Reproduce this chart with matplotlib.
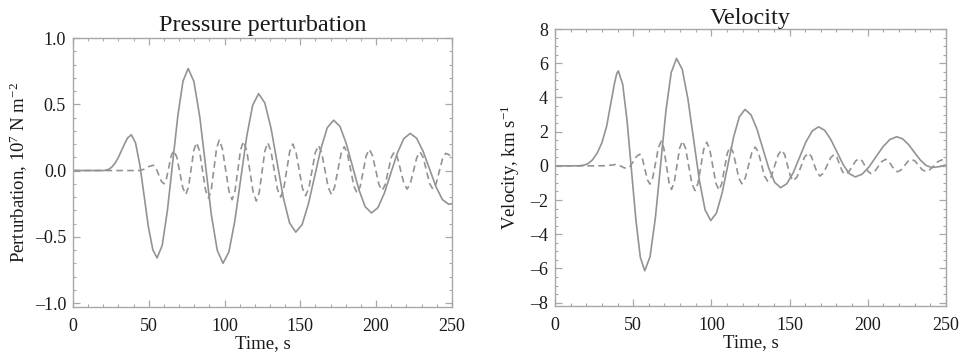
import matplotlib
matplotlib.use("Agg")
import matplotlib.pyplot as plt
from matplotlib.ticker import MultipleLocator, FuncFormatter

plt.rcParams['font.family'] = ['Liberation Serif', 'DejaVu Serif']
plt.rcParams['mathtext.fontset'] = 'custom'
plt.rcParams['mathtext.rm'] = 'Liberation Serif'
plt.rcParams['mathtext.it'] = 'Liberation Serif:italic'

# pressure perturbation, solid
p_sol_t = [0, 10, 20, 22, 24, 26, 28, 30, 32, 34, 36, 38.5,
           41.3, 44.2, 47.0, 49.8, 52.7, 55.5,
           58.9, 62.3, 65.75, 69.2, 72.6, 76,
           79.8, 83.7, 87.5, 91.3, 95.2, 99,
           102.9, 106.8, 110.75, 114.7, 118.6, 122.5,
           126.6, 130.7, 134.75, 138.8, 142.9, 147,
           151.2, 155.3, 159.5, 163.7, 167.8, 172,
           176.2, 180.3, 184.5, 188.7, 192.8, 197,
           201.25, 205.5, 209.75, 214, 218.25, 222.5,
           226.75, 231, 235.25, 239.5, 243.75, 248, 250]
p_sol_v = [0, 0, 0, 0.003, 0.012, 0.03, 0.06, 0.1, 0.15, 0.2, 0.245, 0.27,
           0.208, 0.038, -0.195, -0.428, -0.598, -0.66,
           -0.564, -0.303, 0.055, 0.413, 0.674, 0.77,
           0.672, 0.403, 0.035, -0.333, -0.602, -0.70,
           -0.614, -0.38, -0.06, 0.26, 0.494, 0.58,
           0.51, 0.319, 0.058, -0.204, -0.395, -0.465,
           -0.408, -0.254, -0.043, 0.169, 0.323, 0.38,
           0.333, 0.205, 0.03, -0.145, -0.273, -0.32,
           -0.28, -0.17, -0.02, 0.13, 0.24, 0.28,
           0.244, 0.146, 0.013, -0.121, -0.219, -0.255, -0.25]

# pressure perturbation, dashed
p_dash_t = [0, 44, 47, 50, 53, 54.75, 56.5, 58.25, 60, 61.6, 63.25, 64.9, 66.5,
            68.5, 70.5, 72.5, 74.5, 76.25, 78, 79.75, 81.5, 83.5, 85.5, 87.5,
            89.5, 91.25, 93, 94.75, 96.5, 98.6, 100.75, 102.9, 105, 106.9,
            108.75, 110.6, 112.5, 114.6, 116.75, 118.9, 121, 122.9, 124.75,
            126.6, 128.5, 130.6, 132.75, 134.9, 137, 139, 141, 143, 145, 147.1,
            149.25, 151.4, 153.5, 155.6, 157.75, 159.9, 162, 164.1, 166.25,
            168.4, 170.5, 172.6, 174.75, 176.9, 179, 181.1, 183.25, 185.4,
            187.5, 189.5, 191.5, 193.5, 195.5, 197.6, 199.75, 201.9, 204, 206,
            208, 210, 212, 214.1, 216.25, 218.4, 220.5, 222.6, 224.75, 226.9,
            229, 231.1, 233.25, 235.4, 237.5, 239.6, 241.75, 243.9, 246, 248, 250]
p_dash_v = [0, 0, 0.01, 0.03, 0.04, 0.02, -0.03, -0.08, -0.10, -0.064, 0.025, 0.114, 0.15,
            0.102, -0.015, -0.132, -0.18, -0.123, 0.015, 0.153, 0.21, 0.149, 0, -0.149,
            -0.21, -0.146, 0.01, 0.166, 0.23, 0.164, 0.005, -0.154, -0.22, -0.156,
            0, 0.156, 0.22, 0.154, -0.005, -0.164, -0.23, -0.166, -0.01,
            0.146, 0.21, 0.15, 0.005, -0.14, -0.20, -0.142, 0, 0.142, 0.20, 0.143,
            0.005, -0.133, -0.19, -0.135, 0, 0.135, 0.19, 0.136, 0.005,
            -0.126, -0.18, -0.127, 0, 0.127, 0.18, 0.129, 0.005, -0.119,
            -0.17, -0.122, -0.005, 0.112, 0.16, 0.115, 0.005, -0.105, -0.15, -0.108,
            -0.005, 0.098, 0.14, 0.099, 0, -0.099, -0.14, -0.099, 0, 0.099,
            0.14, 0.099, 0, -0.099, -0.14, -0.1, -0.005, 0.09, 0.13, 0.12, 0.1]

# velocity, solid
u_sol_t = [0, 10, 15, 18, 21, 24, 27, 30, 33, 36, 38, 39.5, 40.5,
           43.3, 46.1, 48.95, 51.8, 54.6, 57.4,
           60.8, 64.2, 67.55, 70.9, 74.3, 77.7,
           81.35, 85.0, 88.65, 92.3, 95.95, 99.6,
           103.25, 106.9, 110.55, 114.2, 117.85, 121.5,
           125.3, 129.1, 132.9, 136.7, 140.5, 144.3,
           148.3, 152.4, 156.4, 160.4, 164.5, 168.5,
           172.4, 176.3, 180.25, 184.2, 188.1, 192,
           196.4, 200.8, 205.25, 209.7, 214.1, 218.5,
           222.25, 226, 229.75, 233.5, 237.25, 241, 245.5, 250]
u_sol_v = [0, 0, 0, 0.03, 0.12, 0.35, 0.75, 1.35, 2.3, 3.8, 4.8, 5.4, 5.55,
           4.77, 2.63, -0.3, -3.22, -5.36, -6.14,
           -5.31, -3.04, 0.07, 3.18, 5.45, 6.28,
           5.65, 3.91, 1.54, -0.83, -2.57, -3.2,
           -2.76, -1.58, 0.05, 1.68, 2.86, 3.3,
           2.99, 2.16, 1.01, -0.14, -0.97, -1.28,
           -1.04, -0.39, 0.5, 1.39, 2.04, 2.28,
           2.08, 1.55, 0.82, 0.08, -0.45, -0.65,
           -0.49, -0.06, 0.53, 1.11, 1.54, 1.70,
           1.58, 1.25, 0.8, 0.35, 0.02, -0.1, -0.05, 0.05]

# velocity, dashed
u_dash_t = [0, 30, 35, 39, 40.75, 42.5, 44.25, 46, 48.1, 50.15, 52.2, 54.3,
            55.9, 57.5, 59.1, 60.7, 62.5, 64.35, 66.2, 68, 69.6, 71.25, 72.9,
            74.5, 76.25, 78, 79.75, 81.5, 83.5, 85.5, 87.5, 89.5, 91.4, 93.25,
            95.1, 97, 98.95, 100.9, 102.85, 104.8, 106.6, 108.4, 110.2, 112,
            113.9, 115.75, 117.6, 119.5, 121.6, 123.75, 125.9, 128, 130, 132,
            134, 136, 138.25, 140.5, 142.75, 145, 146.85, 148.7, 150.55, 152.4,
            154.8, 157.2, 159.6, 162, 163.9, 165.75, 167.6, 169.5, 171.75, 174,
            176.25, 178.5, 180.25, 182, 183.75, 185.5, 187.75, 190, 192.25,
            194.5, 196.4, 198.25, 200.1, 202, 204.4, 206.75, 209.1, 211.5,
            213.4, 215.25, 217.1, 219, 221.25, 223.5, 225.75, 228, 230.25,
            232.5, 234.75, 237, 239.6, 242.25, 244.9, 247.5, 250]
u_dash_v = [0, 0, 0.03, 0.08, 0.046, -0.035, -0.116, -0.15, -0.029, 0.265, 0.559, 0.68,
            0.424, -0.195, -0.814, -1.07, -0.702, 0.19, 1.082, 1.45, 1.037, 0.035, -0.967,
            -1.38, -0.967, 0.035, 1.037, 1.45, 1.026, 0, -1.026, -1.45, -1.037, -0.035,
            0.967, 1.38, 0.971, -0.02, -1.011, -1.42, -1.049, -0.15, 0.749, 1.12,
            0.803, 0.035, -0.733, -1.05, -0.736, 0.025, 0.786, 1.1, 0.808, 0.1,
            -0.608, -0.9, -0.634, 0.01, 0.654, 0.92, 0.657, 0.02, -0.617, -0.88,
            -0.642, -0.065, 0.512, 0.75, 0.553, 0.075, -0.403, -0.6, -0.416, 0.03,
            0.476, 0.66, 0.49, 0.08, -0.331, -0.5, -0.366, -0.04, 0.286,
            0.42, 0.293, -0.015, -0.323, -0.45, -0.329, -0.035, 0.259, 0.38,
            0.273, 0.015, -0.243, -0.35, -0.243, 0.015, 0.273, 0.38, 0.276,
            0.025, -0.226, -0.33, -0.231, 0.01, 0.251, 0.35, 0.3]

for a, b in [(p_sol_t, p_sol_v), (p_dash_t, p_dash_v), (u_sol_t, u_sol_v), (u_dash_t, u_dash_v)]:
    assert len(a) == len(b), (len(a), len(b))

line_col = '#939393'
axis_col = '#a8a8a8'
text_col = '#1a1a1a'

fig = plt.figure(figsize=(9.64, 3.56), dpi=100)
ax1 = fig.add_axes([0.0757, 0.1376, 0.393, 0.7556])
ax2 = fig.add_axes([0.5757, 0.1404, 0.4056, 0.778])


def fmt(dec):
    def f(v, pos):
        s = '%.*f' % (dec, v)
        if s.startswith('-'):
            s = '\u2013' + s[1:]
        return s
    return FuncFormatter(f)


def style(ax, ymaj, ymin):
    ax.set_xlim(0, 250)
    ax.xaxis.set_major_locator(MultipleLocator(50))
    ax.xaxis.set_minor_locator(MultipleLocator(10))
    ax.yaxis.set_major_locator(MultipleLocator(ymaj))
    ax.yaxis.set_minor_locator(MultipleLocator(ymin))
    for s in ax.spines.values():
        s.set_color(axis_col)
        s.set_linewidth(1.0)
    ax.tick_params(which='both', direction='in', top=True, right=True,
                   color=axis_col, labelcolor=text_col, labelsize=13)
    ax.tick_params(axis='x', which='both', pad=8)
    ax.tick_params(axis='y', which='both', pad=5)
    ax.tick_params(which='major', length=5, width=0.9)
    ax.tick_params(which='minor', length=2.5, width=0.8)
    ax.xaxis.set_major_formatter(fmt(0))
    ax.set_xlabel('Time, s', fontsize=13.5, color=text_col, labelpad=0)


ax1.plot(p_sol_t, p_sol_v, color=line_col, lw=1.2)
ax1.plot(p_dash_t, p_dash_v, color=line_col, lw=1.2, dashes=(4, 2.5))
style(ax1, 0.5, 0.1)
ax1.set_ylim(-1.03, 1.0)
ax1.yaxis.set_major_formatter(fmt(1))
ax1.set_title('Pressure perturbation', fontsize=17.5, color=text_col, pad=5)
ax1.set_ylabel('Perturbation, 10$^{7}$ N m$^{-2}$', fontsize=13.5, color=text_col, labelpad=3)

ax2.plot(u_sol_t, u_sol_v, color=line_col, lw=1.2)
ax2.plot(u_dash_t, u_dash_v, color=line_col, lw=1.2, dashes=(4, 2.5))
style(ax2, 2, 0.5)
ax2.set_ylim(-8.2, 8.0)
ax2.yaxis.set_major_formatter(fmt(0))
ax2.set_title('Velocity', fontsize=17.5, color=text_col, pad=1)
ax2.set_ylabel('Velocity, km s$^{-1}$', fontsize=13.5, color=text_col, labelpad=6)

fig.savefig('out.png', dpi=100)
